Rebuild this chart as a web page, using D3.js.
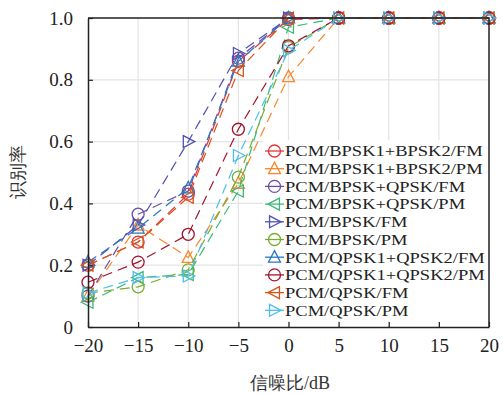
<!DOCTYPE html>
<html>
<head>
<meta charset="utf-8">
<script src="https://cdn.jsdelivr.net/npm/d3@7"></script>
<style>
  body { margin: 0; background: #fff; }
</style>
</head>
<body>
<svg id="chart" width="503" height="394"></svg>
<script>
// SNR points (dB)
const snr = [-20, -15, -10, -5, 0, 5, 10, 15, 20];

const seriesNames = [
  "PCM/BPSK1+BPSK2/FM",
  "PCM/BPSK1+BPSK2/PM",
  "PCM/BPSK+QPSK/FM",
  "PCM/BPSK+QPSK/PM",
  "PCM/BPSK/FM",
  "PCM/BPSK/PM",
  "PCM/QPSK1+QPSK2/FM",
  "PCM/QPSK1+QPSK2/PM",
  "PCM/QPSK/FM",
  "PCM/QPSK/PM"
];

// recognition rate per series, same order as seriesNames
const bpsk12Fm = [0.20, 0.275, 0.43, 0.86, 0.995, 1, 1, 1, 1];
const bpsk12Pm = [0.10, 0.33, 0.225, 0.465, 0.81, 1, 1, 1, 1];
const bpskQpskFm = [0.10, 0.365, 0.44, 0.87, 1, 1, 1, 1, 1];
const bpskQpskPm = [0.08, 0.16, 0.17, 0.44, 0.97, 1, 1, 1, 1];
const bpskFm = [0.20, 0.33, 0.60, 0.885, 1, 1, 1, 1, 1];
const bpskPm = [0.11, 0.13, 0.185, 0.485, 0.905, 1, 1, 1, 1];
const qpsk12Fm = [0.21, 0.32, 0.45, 0.86, 1, 1, 1, 1, 1];
const qpsk12Pm = [0.145, 0.21, 0.30, 0.64, 0.91, 1, 1, 1, 1];
const qpskFm = [0.20, 0.275, 0.42, 0.83, 1, 1, 1, 1, 1];
const qpskPm = [0.11, 0.16, 0.165, 0.555, 0.895, 1, 1, 1, 1];

const seriesValues = [bpsk12Fm, bpsk12Pm, bpskQpskFm, bpskQpskPm, bpskFm,
  bpskPm, qpsk12Fm, qpsk12Pm, qpskFm, qpskPm];

const xTicks = [-20, -15, -10, -5, 0, 5, 10, 15, 20];
const yTicks = [0, 0.2, 0.4, 0.6, 0.8, 1.0];

const colors = ["#e2343a", "#f7882c", "#6a4ea6", "#3cb878", "#4f4fb5",
  "#77ac30", "#2a78bd", "#a2142f", "#d95319", "#4dbeee"];
const markers = ["circle", "up", "circle", "left", "right",
  "circle", "up", "circle", "left", "right"];

const serif = "Liberation Serif";
const svg = d3.select("#chart");
const mLeft = 88, mRight = 489, mTop = 18, mBottom = 327;

const x = d3.scaleLinear().domain([-20, 20]).range([mLeft, mRight]);
const y = d3.scaleLinear().domain([0, 1]).range([mBottom, mTop]);

// grid
const grid = svg.append("g");
grid.selectAll(".gx").data(xTicks.slice(1, -1)).enter().append("line")
  .attr("x1", d => x(d)).attr("x2", d => x(d))
  .attr("y1", mTop).attr("y2", mBottom)
  .attr("stroke", "#e3e3e3").attr("stroke-width", 1.2);
grid.selectAll(".gy").data(yTicks.slice(1, -1)).enter().append("line")
  .attr("x1", mLeft).attr("x2", mRight)
  .attr("y1", d => y(d)).attr("y2", d => y(d))
  .attr("stroke", "#e3e3e3").attr("stroke-width", 1.2);

function markerPath(type, r) {
  if (type === "circle") {
    return `M${-r},0A${r},${r} 0 1,0 ${r},0A${r},${r} 0 1,0 ${-r},0Z`;
  }
  const h = r * 1.1, w = r * 1.0;
  if (type === "up") return `M0,${-h}L${w},${h * 0.75}L${-w},${h * 0.75}Z`;
  if (type === "left") return `M${-h},0L${h * 0.75},${-w}L${h * 0.75},${w}Z`;
  return `M${h},0L${-h * 0.75},${-w}L${-h * 0.75},${w}Z`;
}

const line = d3.line().x((d, i) => x(snr[i])).y(d => y(d));

const plot = svg.append("g");
seriesValues.forEach((vals, k) => {
  const g = plot.append("g");
  g.append("path")
    .attr("d", line(vals))
    .attr("fill", "none")
    .attr("stroke", colors[k])
    .attr("stroke-width", 1.2)
    .attr("stroke-dasharray", "10,6");
  g.selectAll("path.m").data(vals).enter().append("path")
    .attr("class", "m")
    .attr("transform", (d, i) => `translate(${x(snr[i])},${y(d)})`)
    .attr("d", markerPath(markers[k], 6))
    .attr("fill", "none")
    .attr("stroke", colors[k])
    .attr("stroke-width", 1.3);
});

// legend
const lg = svg.append("g");
lg.append("rect")
  .attr("x", 263).attr("y", 140).attr("width", 225).attr("height", 181)
  .attr("fill", "#fff");
const rowY = i => 151 + i * 17.7;
seriesNames.forEach((name, k) => {
  lg.append("line")
    .attr("x1", 265).attr("x2", 284)
    .attr("y1", rowY(k)).attr("y2", rowY(k))
    .attr("stroke", colors[k]).attr("stroke-width", 1.3);
  lg.append("path")
    .attr("transform", `translate(274.5,${rowY(k)})`)
    .attr("d", markerPath(markers[k], 6))
    .attr("fill", "none")
    .attr("stroke", colors[k])
    .attr("stroke-width", 1.3);
  const t = lg.append("text")
    .attr("x", 285).attr("y", rowY(k))
    .attr("dy", "0.35em")
    .attr("font-family", serif)
    .attr("font-size", 18.5)
    .attr("fill", "#222")
    .text(name);
  // keep the wide look of the original but a shorter line box
  const w = t.node().getComputedTextLength();
  t.attr("font-size", 15.3).attr("textLength", w).attr("lengthAdjust", "spacingAndGlyphs");
});

// axes
const fmt = d => d < 0 ? "\u2212" + Math.abs(d) : String(d);
const xAxis = svg.append("g").attr("transform", `translate(0,${mBottom})`)
  .call(d3.axisBottom(x).tickValues(xTicks).tickSizeInner(-5).tickSizeOuter(0).tickPadding(12).tickFormat(fmt));
const yAxis = svg.append("g").attr("transform", `translate(${mLeft},0)`)
  .call(d3.axisLeft(y).tickValues(yTicks).tickSizeInner(-5).tickSizeOuter(0).tickPadding(15)
    .tickFormat(d => d === 0 ? "0" : d3.format(".1f")(d)));
[xAxis, yAxis].forEach(a => {
  a.attr("font-family", serif).attr("font-size", 19);
  a.select(".domain").attr("stroke", "#222").attr("stroke-width", 1.5);
  a.selectAll(".tick line").attr("stroke", "#222").attr("stroke-width", 1.2);
  a.selectAll(".tick text").attr("fill", "#222");
});

// top and right border
svg.append("path")
  .attr("d", `M${mLeft},${mTop}H${mRight}V${mBottom}`)
  .attr("fill", "none").attr("stroke", "#222").attr("stroke-width", 1.5);

// axis titles
svg.append("text")
  .attr("x", 290).attr("y", 389)
  .attr("text-anchor", "middle")
  .attr("font-family", serif)
  .attr("font-size", 18).attr("fill", "#333")
  .text("信噪比/dB");
svg.append("text")
  .attr("transform", `translate(24,172) rotate(-90)`)
  .attr("text-anchor", "middle")
  .attr("font-family", serif)
  .attr("font-size", 18).attr("fill", "#333")
  .text("识别率");
</script>
</body>
</html>
